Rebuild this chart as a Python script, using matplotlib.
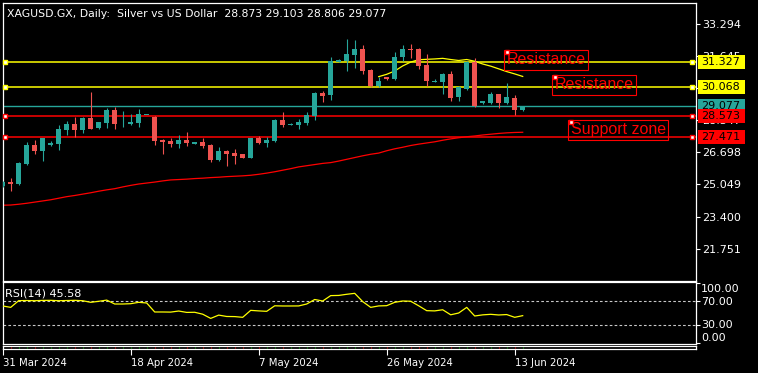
import matplotlib
matplotlib.use("Agg")
import matplotlib.pyplot as plt
import pandas as pd
from matplotlib.patches import Rectangle

plt.rcParams['font.family'] = ['DejaVu Sans']

# 数据 (读自截图)
opens = [24.97, 25.17, 25.07, 26.10, 27.08, 26.78, 27.09, 27.14, 27.85, 28.16,
         27.85, 28.46, 27.97, 28.22, 28.87, 28.19, 28.17, 28.22, 28.61, 28.53,
         27.33, 27.30, 27.13, 27.33, 27.14, 27.23, 27.06, 26.30, 26.77, 26.66,
         26.61, 26.41, 27.44, 27.20, 27.30, 28.36, 28.12, 28.12, 28.22, 28.57,
         29.75, 29.66, 31.34, 31.41, 31.72, 32.01, 30.93, 30.11, 30.57, 30.47,
         31.58, 32.01, 32.01, 31.19, 30.33, 30.32, 30.73, 29.54, 29.97, 31.33,
         29.25, 29.25, 29.70, 29.25, 29.49, 28.873]
highs = [25.22, 25.38, 26.20, 27.23, 27.33, 27.46, 27.26, 28.10, 28.29, 28.53,
         28.50, 29.80, 28.27, 28.98, 29.01, 28.81, 28.67, 28.91, 28.63, 28.55,
         27.37, 27.44, 27.59, 27.74, 27.24, 27.44, 27.13, 26.97, 26.82, 26.87,
         26.62, 27.45, 27.54, 27.47, 28.43, 28.77, 28.21, 28.40, 28.77, 29.80,
         29.85, 31.58, 31.48, 32.53, 32.47, 32.22, 30.98, 30.59, 30.58, 31.86,
         32.22, 32.27, 32.06, 31.75, 30.47, 30.78, 30.86, 30.11, 31.41, 31.55,
         29.35, 29.80, 29.71, 30.26, 29.65, 29.103]
lows = [24.94, 24.73, 25.04, 26.06, 26.61, 26.27, 27.04, 26.82, 27.61, 27.50,
        27.71, 27.88, 27.90, 27.97, 27.90, 28.02, 28.12, 28.02, 28.60, 27.08,
        26.61, 26.99, 26.92, 27.04, 27.13, 26.92, 26.20, 26.25, 25.99, 26.10,
        26.40, 26.40, 27.13, 26.99, 27.23, 28.02, 28.10, 27.92, 28.09, 28.36,
        29.30, 29.39, 31.33, 30.90, 31.03, 30.74, 30.04, 30.04, 30.42, 30.42,
        31.41, 31.55, 30.97, 30.13, 30.30, 29.72, 29.34, 29.34, 29.90, 29.01,
        29.20, 29.18, 28.98, 29.18, 28.62, 28.806]
closes = [25.17, 25.09, 26.15, 27.08, 26.78, 27.44, 27.19, 27.90, 28.16, 27.85,
          28.46, 27.90, 28.26, 28.87, 28.16, 28.22, 28.26, 28.67, 28.62, 27.30,
          27.23, 27.13, 27.33, 27.18, 27.23, 27.04, 26.30, 26.77, 26.61, 26.51,
          26.41, 27.44, 27.18, 27.33, 28.36, 28.12, 28.16, 28.26, 28.60, 29.75,
          29.61, 31.38, 31.45, 31.75, 32.01, 30.88, 30.11, 30.37, 30.47, 31.58,
          32.01, 31.98, 31.15, 30.37, 30.37, 30.73, 29.49, 30.04, 31.36, 29.08,
          29.34, 29.70, 29.25, 29.54, 28.87, 29.077]

# 慢速均线 (红)
ma_slow = [23.98, 23.99, 24.03, 24.08, 24.14, 24.20, 24.26, 24.34, 24.42, 24.48,
           24.55, 24.62, 24.70, 24.77, 24.83, 24.92, 25.00, 25.07, 25.12, 25.17,
           25.23, 25.28, 25.30, 25.32, 25.35, 25.37, 25.40, 25.42, 25.45, 25.47,
           25.49, 25.52, 25.57, 25.63, 25.70, 25.78, 25.86, 25.95, 26.01, 26.07,
           26.13, 26.17, 26.25, 26.34, 26.43, 26.52, 26.60, 26.66, 26.78, 26.88,
           26.96, 27.05, 27.12, 27.18, 27.24, 27.32, 27.39, 27.45, 27.50, 27.54,
           27.59, 27.63, 27.67, 27.70, 27.72, 27.73]
# 快速均线 (黄), 从第47根K线开始
ma_fast_start = 47
ma_fast = [30.59, 30.71, 30.88, 31.14, 31.34, 31.46, 31.48, 31.50, 31.53, 31.47,
           31.42, 31.47, 31.38, 31.24, 31.13, 30.99, 30.85, 30.73, 30.60]

rsi = [61.7, 59.4, 70.6, 70.8, 70.5, 71.0, 71.1, 70.5, 70.8, 71.1,
       70.5, 67.8, 69.5, 71.5, 65.0, 65.0, 65.5, 67.8, 66.7, 51.7,
       51.7, 51.5, 53.3, 51.0, 51.2, 48.0, 41.0, 46.5, 44.2, 44.0,
       42.8, 54.4, 53.5, 52.8, 62.0, 61.7, 61.7, 61.8, 65.0, 72.5,
       70.0, 79.0, 79.3, 81.2, 82.8, 69.0, 59.4, 61.8, 62.2, 67.8,
       70.0, 69.6, 62.0, 53.9, 53.5, 55.4, 47.0, 50.0, 59.4, 45.0,
       46.9, 47.8, 46.7, 47.4, 42.8, 45.58]

resistance_levels = [31.327, 30.068]
support_levels = [28.573, 27.471]
last_price = 29.077
price_ticks = [33.294, 31.645, 29.996, 28.347, 26.698, 25.049, 23.400, 21.751]
rsi_ticks = [100, 70, 30, 0]
rsi_tick_labels = ["100.00", "70.00", "30.00", "0.00"]
title = "XAGUSD.GX, Daily:  Silver vs US Dollar  28.873 29.103 28.806 29.077"
notes = [("Resistance", 63, 31.84), ("Resistance", 69, 30.556), ("Support zone", 71, 28.243)]

# K线日期 (周六无K线)
dates = [d for d in pd.date_range("2024-03-31", "2024-06-14") if d.dayofweek != 5]

TEAL = '#26a69a'
CRED = '#ef5350'
W, H = 758, 373


def rect(l, t, r, b):
    # 像素坐标 -> 图形坐标
    return [l / W, 1 - b / H, (r - l) / W, (b - t) / H]


def style_frame(ax):
    ax.set_facecolor('black')
    for s in ax.spines.values():
        s.set_color('white')
        s.set_linewidth(0.9)


fig = plt.figure(figsize=(W / 100, H / 100), dpi=100, facecolor='black')

# 主图
ax = fig.add_axes(rect(2.7, 2.7, 695.7, 280.5))
style_frame(ax)
n = len(opens)
xs = list(range(n))
for i in xs:
    col = TEAL if closes[i] >= opens[i] else CRED
    ax.vlines(i, lows[i], highs[i], color=col, lw=0.8, zorder=3)
    lo, hi = min(opens[i], closes[i]), max(opens[i], closes[i])
    ax.bar(i, max(hi - lo, 0.04), bottom=lo, width=0.64, color=col, lw=0, zorder=3)

ax.plot(xs, ma_slow, color='#ff0000', lw=0.9, zorder=2)
ax.plot(range(ma_fast_start, ma_fast_start + len(ma_fast)), ma_fast, color='#ffff00', lw=0.9, zorder=2)

ax.axhline(last_price, color=TEAL, lw=1.0, zorder=1)
for lv in resistance_levels:
    ax.axhline(lv, color='#ffff00', lw=1.1, zorder=1)
for lv in support_levels:
    ax.axhline(lv, color='#ff0000', lw=1.1, zorder=1)

x_left = (695.7 - 2.7) / 8
ax.set_xlim(0, x_left)
ax.set_ylim(20.110, 34.391)
ax.set_xticks([])
ax.yaxis.tick_right()
ax.set_yticks(price_ticks)
ax.set_yticklabels([f"{v:.3f}" for v in price_ticks])
ax.tick_params(axis='y', colors='white', labelcolor='white', labelsize=8,
               length=3, width=0.8, pad=1.5)

# 水平线端点的小方块
for lv, col in [(resistance_levels[0], '#ffff00'), (resistance_levels[1], '#ffff00'),
                (support_levels[0], '#ff0000'), (support_levels[1], '#ff0000')]:
    ax.plot([(5.3 - 2.7) / 8, (692.3 - 2.7) / 8], [lv, lv], ls='none', marker='s', ms=3.3,
            mfc='white', mec=col, mew=1.0, zorder=6, clip_on=False)

# 右侧价格标签
ytr = ax.get_yaxis_transform()
bx0 = (698 - 2.7) / 693
bw = 47 / 693
bh = 14 * 0.05141
for lv, fc in [(resistance_levels[0], '#ffff00'), (resistance_levels[1], '#ffff00'),
               (last_price, TEAL), (support_levels[0], '#ff0000'), (support_levels[1], '#ff0000')]:
    ax.add_patch(Rectangle((bx0, lv - bh / 2), bw, bh, transform=ytr, fc=fc, ec='none',
                           zorder=8, clip_on=False))
    ax.text((701 - 2.7) / 693, lv, f"{lv:.3f}", transform=ytr, color='black', fontsize=8,
            va='center', ha='left', zorder=9, clip_on=False)

# 文字标注
for txt, bx, by in notes:
    ax.text(bx, by, txt, color='#ff0000', fontsize=11.5, family=['Liberation Sans'],
            ha='left', va='top', zorder=7,
            bbox=dict(boxstyle='square,pad=0.14', fc='none', ec='#ff0000', lw=0.8))
    ax.plot([bx], [by], ls='none', marker='s', ms=3.0, mfc='white', mec='#ff0000',
            mew=1.0, zorder=8, clip_on=False)

fig.text(7 / W, 1 - 14 / H, title, color='white', fontsize=7.85, va='center', ha='left')

# RSI 子图
ax2 = fig.add_axes(rect(2.7, 282, 695.7, 343.7))
style_frame(ax2)
ax2.plot(xs, rsi, color='#ffff00', lw=0.9, zorder=3)
for lv in [70, 30]:
    ax2.axhline(lv, color='#c8c8c8', lw=0.8, ls=(0, (2.4, 2.0)), zorder=2)
ax2.set_xlim(0, x_left)
ax2.set_ylim(-1.2, 101.7)
ax2.set_xticks([])
ax2.yaxis.tick_right()
ax2.set_yticks(rsi_ticks)
ax2.set_yticklabels([])
ax2.tick_params(axis='y', colors='white', length=3, width=0.8)
rtr = ax2.get_yaxis_transform()
for lab, yv in zip(rsi_tick_labels, [89.5, 68.8, 30.0, 8.8]):
    ax2.text((701 - 2.7) / 693, yv, lab, transform=rtr, color='white', fontsize=8,
             va='center', ha='left', clip_on=False)
fig.text(5 / W, 1 - 293 / H, f"RSI(14) {rsi[-1]:.2f}", color='white', fontsize=8,
         va='center', ha='left')

# 时间轴条
ax3 = fig.add_axes(rect(2.7, 346.2, 695.7, 349.2))
style_frame(ax3)
ax3.set_xlim(0, x_left)
ax3.set_ylim(0, 1)
for i in xs:
    col = '#00b000' if closes[i] >= opens[i] else '#ff0000'
    ax3.vlines(i, 0.25, 0.75, color=col, lw=0.8)
tick_idx = list(range(0, n, 16))
ax3.set_yticks([])
ax3.set_xticks(tick_idx)
ax3.set_xticklabels([f"{dates[i].day} {dates[i].strftime('%b %Y')}" for i in tick_idx])
ax3.tick_params(axis='x', colors='white', labelcolor='white', labelsize=7.3,
                length=4, width=0.8, pad=2)
for lab in ax3.get_xticklabels():
    lab.set_ha('left')

fig.savefig('out.png', dpi=100, facecolor='black')
